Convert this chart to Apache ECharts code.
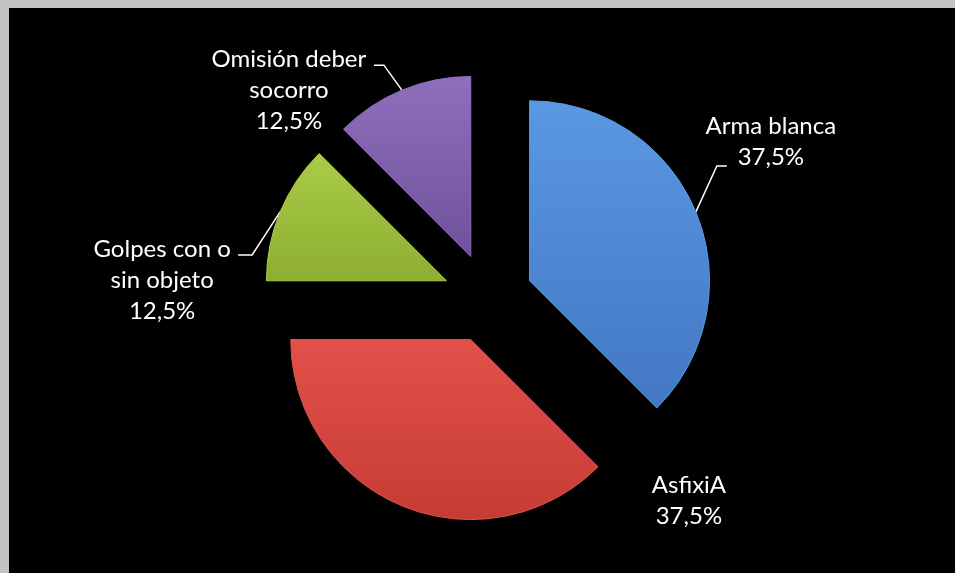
<!DOCTYPE html>
<html>
<head>
<meta charset="utf-8">
<script src="https://cdn.jsdelivr.net/npm/echarts@6/dist/echarts.min.js"></script>
<style>
  html, body { margin: 0; padding: 0; background: #c3c3c3; }
  #chart { position: absolute; left: 9px; top: 8px; width: 946px; height: 565px; }
</style>
</head>
<body>
<div id="chart"></div>
<script>
// Causes, in order clockwise from twelve o'clock
const categories = ['Arma blanca', 'AsfixiA', 'Golpes con o\nsin objeto', 'Omisión deber\nsocorro'];
const shares = [37.5, 37.5, 12.5, 12.5];
const valueLabels = ['37,5%', '37,5%', '12,5%', '12,5%'];

// Slice fills: lighter at the top edge, deeper at the bottom
const fills = [
  ['#5a98e2', '#4277c4'],
  ['#e2514a', '#c53c35'],
  ['#a9cc48', '#8dae2f'],
  ['#8f6fbc', '#6f519b']
];

// Label placement relative to each slice's arc midpoint:
// c = centre of the text block, p1/p2 = leader line bend and end
const labelPlacement = [
  { c: [75, -70], p1: [21, -46], p2: [31, -46] },
  { c: [287, -5], p1: null, p2: null },
  { c: [-118, 68], p1: [-28, 43], p2: [-42, 43] },
  { c: [-113, 0], p1: [-18, -25], p2: [-28, -25] }
];

const pieCenter = [479, 290];
const pieRadius = 180;
const explode = 45;

const chart = echarts.init(document.getElementById('chart'), null, { renderer: 'canvas' });

const total = shares.reduce((s, v) => s + v, 0);
let cumulative = 0;

// Each slice is its own pie, pulled out along its bisector; the rest of
// the circle in that pie is left empty.
const series = shares.map((v, i) => {
  const startFrac = cumulative / total;
  const midAngle = (cumulative + v / 2) / total * Math.PI * 2;
  cumulative += v;
  const pl = labelPlacement[i];
  return {
    type: 'pie',
    center: [pieCenter[0] + explode * Math.sin(midAngle), pieCenter[1] - explode * Math.cos(midAngle)],
    radius: [0, pieRadius],
    startAngle: 90 - startFrac * 360,
    clockwise: true,
    avoidLabelOverlap: false,
    silent: true,
    data: [
      {
        name: categories[i],
        value: v,
        itemStyle: {
          color: new echarts.graphic.LinearGradient(0, 0, 0, 1, [
            { offset: 0, color: fills[i][0] },
            { offset: 1, color: fills[i][1] }
          ]),
          borderColor: fills[i][0],
          borderWidth: 1
        }
      },
      {
        name: '',
        value: total - v,
        itemStyle: { color: 'rgba(0,0,0,0)' },
        label: { show: false },
        labelLine: { show: false }
      }
    ],
    label: {
      show: true,
      position: 'outside',
      color: '#ffffff',
      fontFamily: 'Lato',
      fontSize: 24,
      lineHeight: 31,
      align: 'center',
      formatter: () => categories[i] + '\n' + valueLabels[i]
    },
    labelLine: {
      show: !!pl.p1,
      length: 20,
      length2: 10,
      lineStyle: { color: '#ffffff', width: 1.5 }
    },
    labelLayout: function (params) {
      if (params.dataIndex !== 0 || !params.labelLinePoints) return {};
      const a = params.labelLinePoints[0];
      const out = {
        x: a[0] + pl.c[0],
        y: a[1] + pl.c[1],
        align: 'center',
        verticalAlign: 'middle'
      };
      if (pl.p1) {
        out.labelLinePoints = [
          [a[0], a[1]],
          [a[0] + pl.p1[0], a[1] + pl.p1[1]],
          [a[0] + pl.p2[0], a[1] + pl.p2[1]]
        ];
      }
      return out;
    }
  };
});

chart.setOption({
  backgroundColor: '#000000',
  animation: false,
  series: series
});
</script>
</body>
</html>
